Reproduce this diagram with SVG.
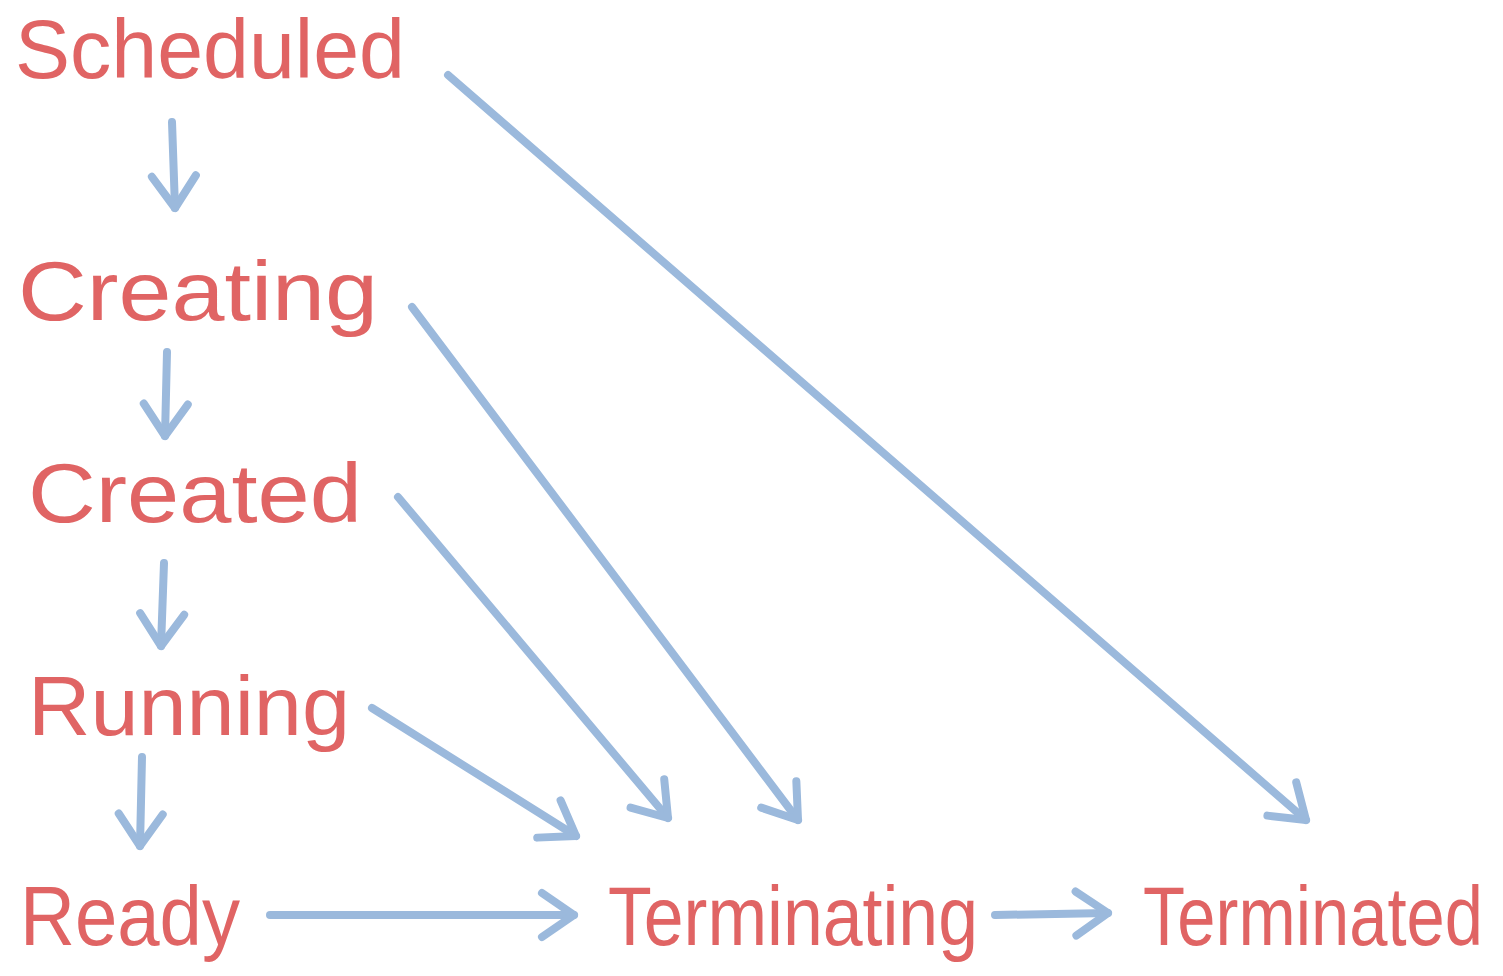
<svg xmlns="http://www.w3.org/2000/svg" width="1503" height="976" viewBox="0 0 1503 976">
<style>
.lbl{font-family:"Liberation Sans",Arial,sans-serif;font-size:84px;fill:#e06464;}
.edge{fill:none;stroke:#9bb9dc;stroke-width:8;stroke-linecap:round;stroke-linejoin:round;marker-end:url(#ah);}
</style>
<defs>
<marker id="ah" markerUnits="userSpaceOnUse" viewBox="-40 -30 50 60" refX="0" refY="0" markerWidth="50" markerHeight="60" orient="auto">
<path d="M-32 -22 L0 0 L-32 22" fill="none" stroke="#9bb9dc" stroke-width="8" stroke-linecap="round" stroke-linejoin="round"/>
</marker>
</defs>
<rect width="1503" height="976" fill="#ffffff"/>
<g id="connectors">
<path class="edge" d="M172 122 L175 208"/>
<path class="edge" d="M167 352 L165 436"/>
<path class="edge" d="M164 563 L161 646"/>
<path class="edge" d="M142 757 L140 846"/>
<path class="edge" d="M270 915 L574 915"/>
<path class="edge" d="M995 915 L1108 913"/>
<path class="edge" d="M448 75 L1306 820"/>
<path class="edge" d="M412 307 L798 820"/>
<path class="edge" d="M398 497 L668 818"/>
<path class="edge" d="M372 708 L576 836"/>
</g>
<g id="node-scheduled"><text class="lbl" x="15" y="78" textLength="390" lengthAdjust="spacingAndGlyphs">Scheduled</text></g>
<g id="node-creating"><text class="lbl" x="18" y="320" textLength="360" lengthAdjust="spacingAndGlyphs">Creating</text></g>
<g id="node-created"><text class="lbl" x="28" y="522" textLength="334" lengthAdjust="spacingAndGlyphs">Created</text></g>
<g id="node-running"><text class="lbl" x="28" y="735" textLength="322" lengthAdjust="spacingAndGlyphs">Running</text></g>
<g id="node-ready"><text class="lbl" x="20" y="945" textLength="220" lengthAdjust="spacingAndGlyphs">Ready</text></g>
<g id="node-terminating"><text class="lbl" x="608" y="945" textLength="370" lengthAdjust="spacingAndGlyphs">Terminating</text></g>
<g id="node-terminated"><text class="lbl" transform="translate(1143 945) scale(1 1.22)" style="font-size:68px" x="0" y="0" textLength="340" lengthAdjust="spacingAndGlyphs">Terminated</text></g>
</svg>
